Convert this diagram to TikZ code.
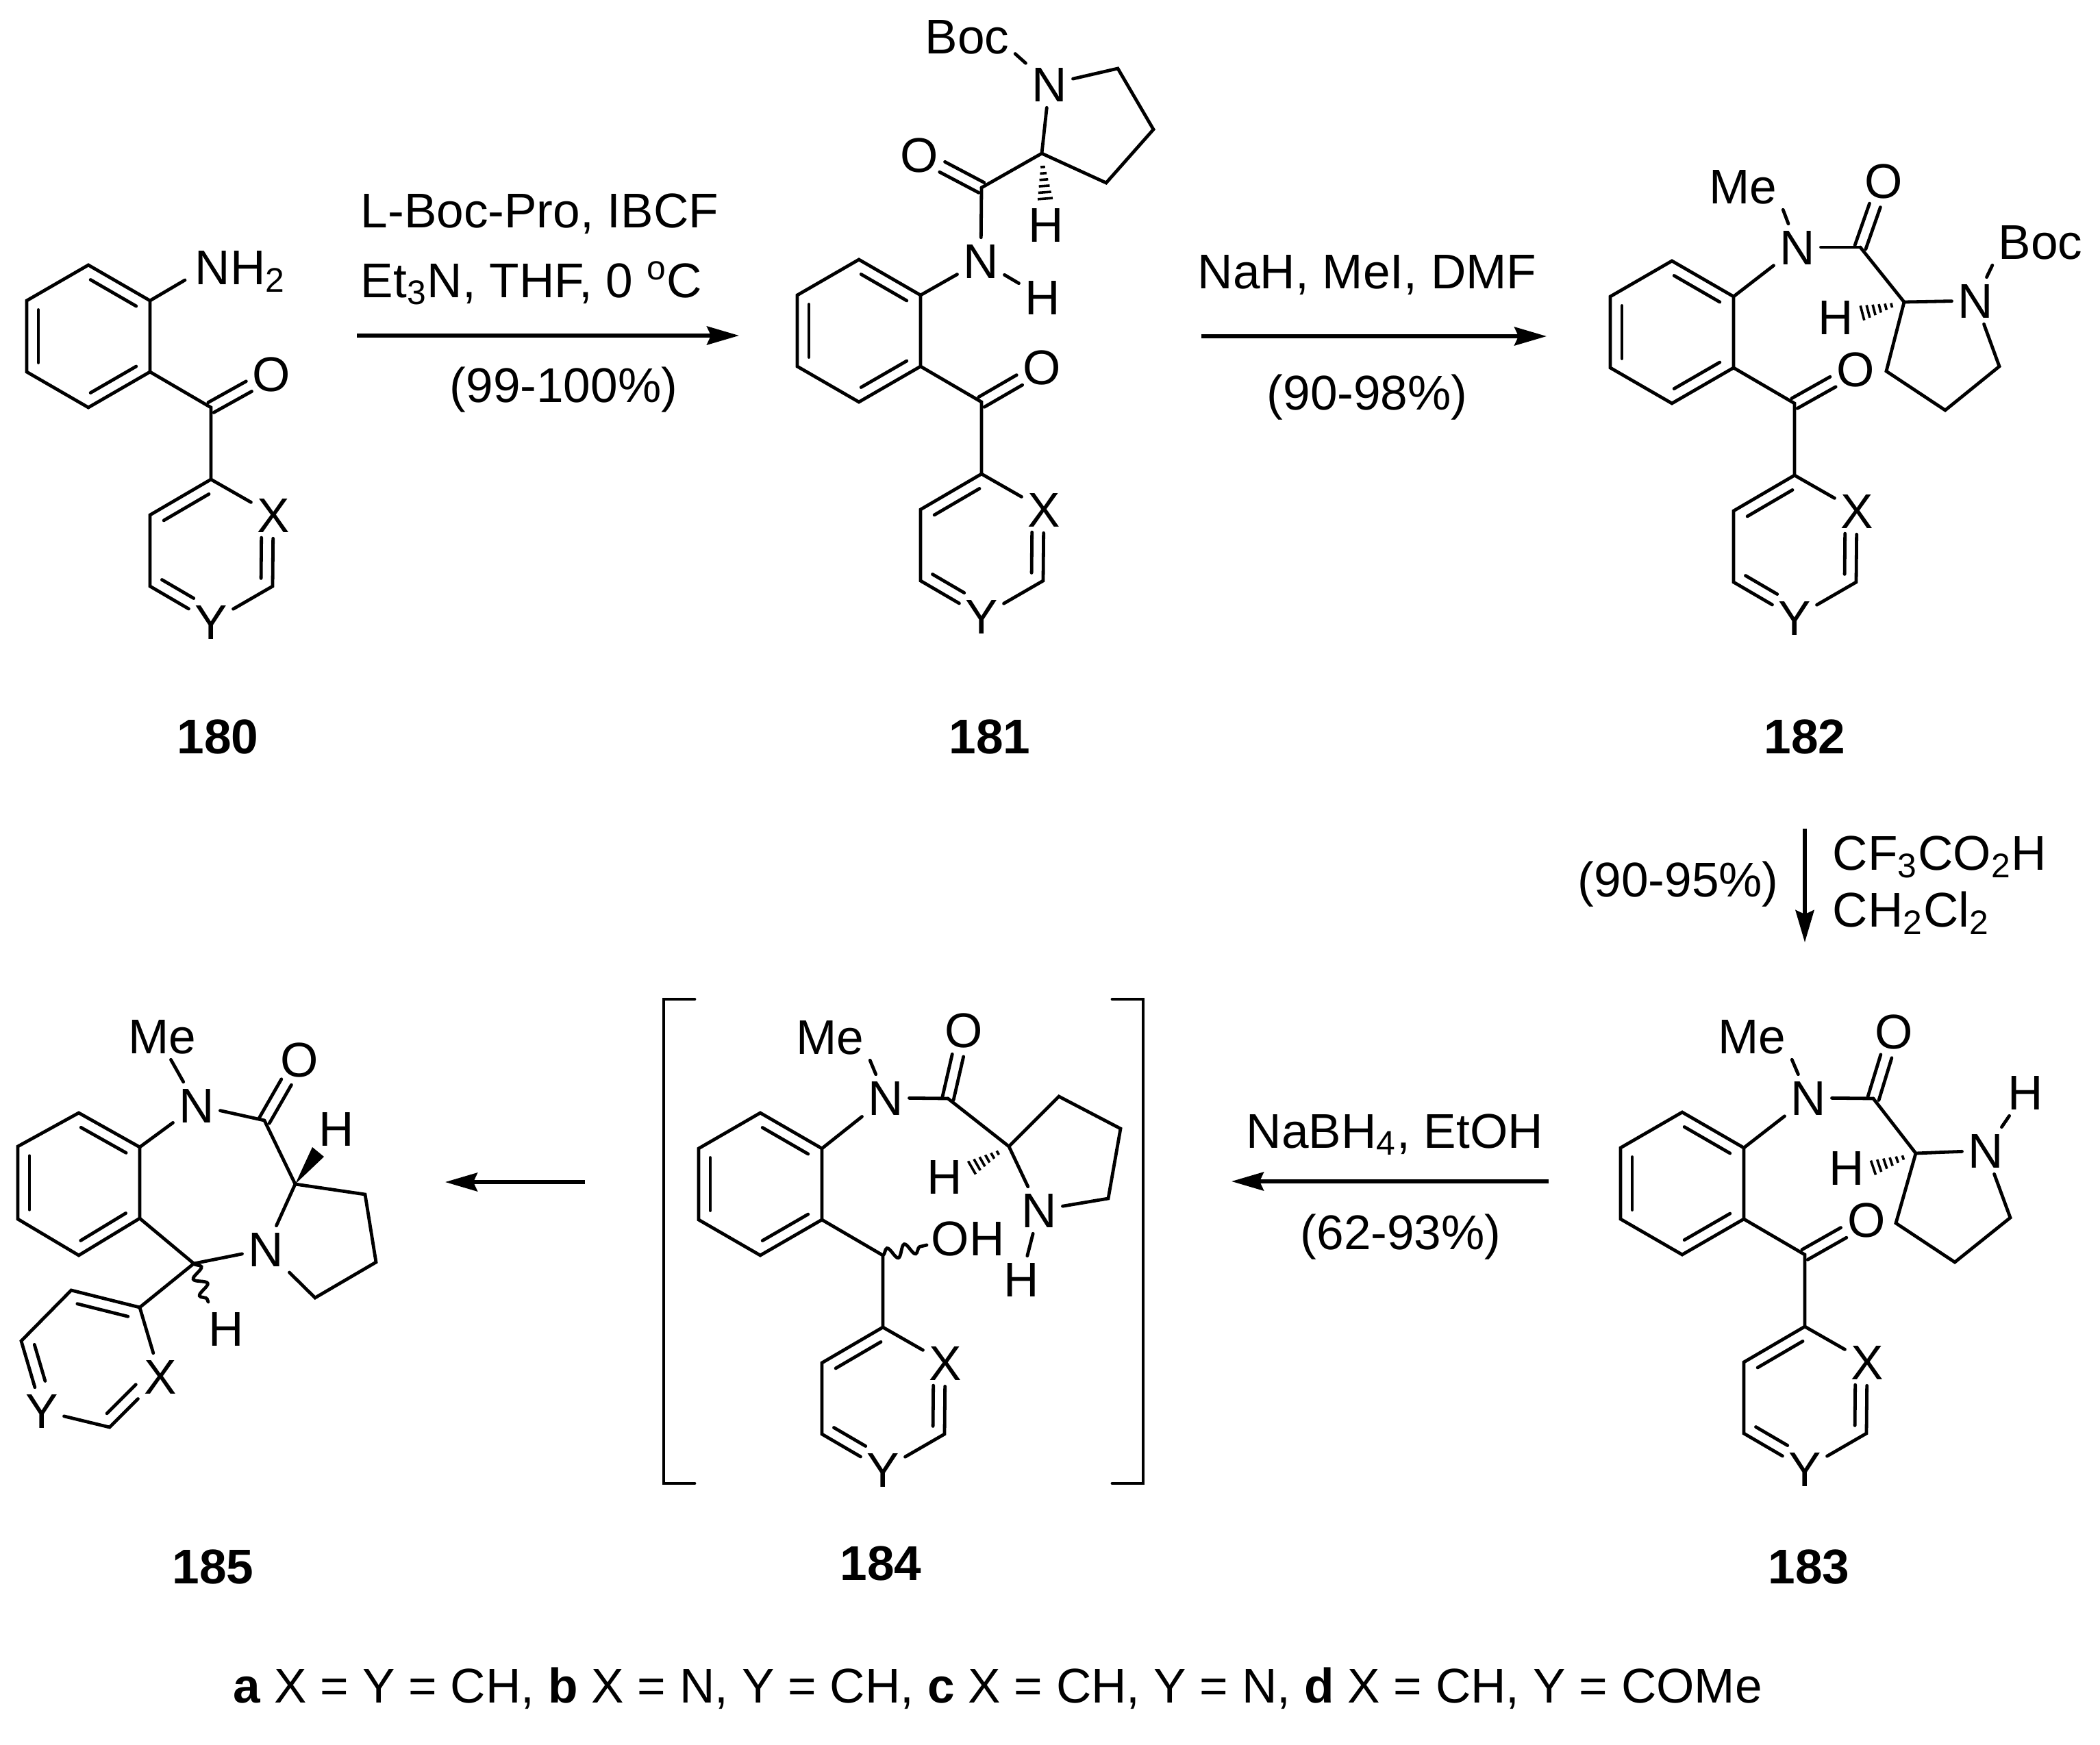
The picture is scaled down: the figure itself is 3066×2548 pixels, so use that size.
\documentclass[tikz,border=0pt]{standalone}
\usepackage{fontspec}
\setmainfont{Liberation Sans}
\usetikzlibrary{calc, arrows.meta, decorations.pathmorphing}

% second line of a ring double bond, on the right of a -> b
\newcommand{\inbond}[4]{
    \path[bond] ($(#1)!#3!(#2)!4.25pt!-90:(#2)$) -- ($(#2)!#4!(#1)!4.25pt!90:(#1)$);
}
% carbonyl
\newcommand{\dblbond}[2]{
    \path[bond] ($(#1)!2.1pt!90:(#2)$) -- ($(#1)!.63!(#2)!2.1pt!90:(#2)$);
    \path[bond] ($(#1)!2.1pt!-90:(#2)$) -- ($(#1)!.63!(#2)!2.1pt!-90:(#2)$);
}
% hashed stereo bond
\newcommand{\hashbond}[2]{
    \foreach \f in {.3,.44,.58,.72,.86,1} {
        \path[hash] ($(#1)!\f!(#2)!{\f*2.75pt}!90:(#1)$) -- ($(#1)!\f!(#2)!{\f*2.75pt}!-90:(#1)$);
    }
}
% benzene + C + X/Y ring, #2,#3 = middle of the benzene
\newcommand{\arylcore}[3]{
    \begin{scope}[shift={(#2,#3)}]
        \coordinate (#1a) at (0,-104);
        \coordinate (#1b) at (90,-52);
        \coordinate (#1c) at (90,52);
        \coordinate (#1d) at (0,104);
        \coordinate (#1e) at (-90,52);
        \coordinate (#1f) at (-90,-52);
        \coordinate (#1C) at (179,104);
        \coordinate (#1g) at (179,209);
        \node (#1X) [atom] at (270,261) {X};
        \coordinate (#1h) at (269,365);
        \node (#1Y) [atom] at (179,417) {Y};
        \coordinate (#1i) at (90,365);
        \coordinate (#1j) at (90,261);
    \end{scope}
    \path[bond] (#1a) -- (#1b) -- (#1c) -- (#1d) -- (#1e) -- (#1f) -- cycle;
    \path[bond] (#1c) -- (#1C) -- (#1g);
    \path[bond] (#1g) -- (#1X);
    \path[bond] (#1X) -- (#1h) -- (#1Y);
    \path[bond] (#1Y) -- (#1i) -- (#1j) -- (#1g);
    \inbond{#1a}{#1b}{.13}{.13}
    \inbond{#1c}{#1d}{.13}{.13}
    \inbond{#1e}{#1f}{.13}{.13}
    \inbond{#1j}{#1g}{.13}{.13}
    \inbond{#1X}{#1h}{.32}{.11}
    \inbond{#1Y}{#1i}{.38}{.1}
}

\begin{document}
\begin{tikzpicture}[
        x = 0.25pt, y = -0.25pt,
        every node/.style = {font = \fontsize{17.8}{21}\selectfont},
        atom/.style = {inner sep = 2pt, text height = 12.75pt, text depth = 0pt},
        txt/.style = {anchor = base west, inner sep = 0pt},
        lab/.style = {anchor = base, inner sep = 0pt, font = \fontsize{17.8}{21}\selectfont\bfseries},
        bond/.style = {draw, line width = 1.2pt, line cap = round},
        hash/.style = {draw, line width = 0.9pt},
        wavy/.style = {bond, decorate, decoration = {snake, segment length = 6.5pt, amplitude = 2.2pt}},
        arr/.style = {draw, line width = 1.3pt, -{Stealth[length = 11.75pt, width = 6.75pt, inset = 1.5pt]}},
    ]
    \useasboundingbox (0,0) rectangle (3066,2548);

    % 180
    \arylcore{A}{129}{491}
    \node (AN) [atom, anchor = west] at (276,390) {NH\textsubscript{2}};
    \coordinate (ANe) at (270,409);
    \node (AO) [atom] at (396,546) {O};
    \path[bond] (Ab) -- (ANe);
    \dblbond{AC}{AO}
    \node (Alab) [lab] at (318,1100) {180};

    % 181
    \arylcore{B}{1254}{483}
    \node (BN) [atom] at (1432,381) {N};
    \node (BH) [atom] at (1522,434) {H};
    \coordinate (BCO) at (1433,274);
    \node (BO) [atom] at (1342,226) {O};
    \coordinate (Bs) at (1521,224);
    \node (BN2) [atom] at (1532,123) {N};
    \node (BBoc) [atom] at (1412,53) {Boc};
    \coordinate (Br1) at (1632,100);
    \coordinate (Br2) at (1684,189);
    \coordinate (Br3) at (1615,267);
    \node (BH2) [atom] at (1527,328) {H};
    \coordinate (Bhe) at (1526,290);
    \node (BO2) [atom] at (1521,536) {O};
    \path[bond] (Bb) -- (BN);
    \path[bond] (BN) -- (BH);
    \path[bond] (BN) -- (BCO);
    \dblbond{BCO}{BO}
    \path[bond] (BCO) -- (Bs);
    \path[bond] (Bs) -- (BN2);
    \path[bond] (BN2) -- (BBoc.-20);
    \path[bond] (BN2) -- (Br1) -- (Br2) -- (Br3) -- (Bs);
    \hashbond{Bs}{Bhe}
    \dblbond{BC}{BO2}
    \node (Blab) [lab] at (1445,1100) {181};

    % 182
    \arylcore{C}{2441}{485}
    \node (CN) [atom] at (2624,361) {N};
    \node (CMe) [atom] at (2545,272) {Me};
    \coordinate (CCO) at (2716,361);
    \node (CO) [atom] at (2750,264) {O};
    \coordinate (Cs) at (2780,441);
    \node (CN2) [atom] at (2884,439) {N};
    \node (CBoc) [atom] at (2979,353) {Boc};
    \coordinate (Cr1) at (2919,535);
    \coordinate (Cr2) at (2840,599);
    \coordinate (Cr3) at (2754,542);
    \node (CH) [atom] at (2680,463) {H};
    \coordinate (Che) at (2719,457);
    \node (CO2) [atom] at (2709,539) {O};
    \path[bond] (Cb) -- (CN);
    \path[bond] (CN) -- (CMe.south east);
    \path[bond] (CN) -- (CCO);
    \dblbond{CCO}{CO}
    \path[bond] (CCO) -- (Cs);
    \path[bond] (Cs) -- (CN2);
    \path[bond] (CN2) -- (CBoc.south west);
    \path[bond] (CN2) -- (Cr1) -- (Cr2) -- (Cr3) -- (Cs);
    \hashbond{Cs}{Che}
    \dblbond{CC}{CO2}
    \node (Clab) [lab] at (2635,1100) {182};

    % 183
    \arylcore{D}{2456}{1728}
    \node (DN) [atom] at (2640,1603) {N};
    \node (DMe) [atom] at (2558,1513) {Me};
    \coordinate (DCO) at (2735,1604);
    \node (DO) [atom] at (2765,1506) {O};
    \coordinate (Ds) at (2797,1684);
    \node (DN2) [atom] at (2899,1680) {N};
    \node (DH2) [atom] at (2957,1595) {H};
    \coordinate (Dr1) at (2935,1778);
    \coordinate (Dr2) at (2854,1843);
    \coordinate (Dr3) at (2768,1786);
    \node (DH) [atom] at (2696,1705) {H};
    \coordinate (Dhe) at (2735,1705);
    \node (DO2) [atom] at (2725,1781) {O};
    \path[bond] (Db) -- (DN);
    \path[bond] (DN) -- (DMe.south east);
    \path[bond] (DN) -- (DCO);
    \dblbond{DCO}{DO}
    \path[bond] (DCO) -- (Ds);
    \path[bond] (Ds) -- (DN2);
    \path[bond] (DN2) -- (DH2);
    \path[bond] (DN2) -- (Dr1) -- (Dr2) -- (Dr3) -- (Ds);
    \hashbond{Ds}{Dhe}
    \dblbond{DC}{DO2}
    \node (Dlab) [lab] at (2641,2312) {183};

    % 184
    \arylcore{E}{1110}{1729}
    \node (EN) [atom] at (1293,1603) {N};
    \node (EMe) [atom] at (1212,1514) {Me};
    \coordinate (ECO) at (1384,1604);
    \node (EO) [atom] at (1407,1504) {O};
    \coordinate (Es) at (1473,1674);
    \coordinate (Er1) at (1546,1601);
    \coordinate (Er2) at (1636,1648);
    \coordinate (Er3) at (1618,1750);
    \node (EN2) [atom] at (1517,1767) {N};
    \node (EH2) [atom] at (1491,1868) {H};
    \node (EH) [atom] at (1379,1718) {H};
    \coordinate (Ehe) at (1419,1705);
    \node (EOH) [atom] at (1413,1808) {OH};
    \coordinate (Ewe) at (1353,1818);
    \path[bond] (Eb) -- (EN);
    \path[bond] (EN) -- (EMe.south east);
    \path[bond] (EN) -- (ECO);
    \dblbond{ECO}{EO}
    \path[bond] (ECO) -- (Es);
    \path[bond] (Es) -- (Er1) -- (Er2) -- (Er3) -- (EN2);
    \path[bond] (EN2) -- (Es);
    \path[bond] (EN2) -- (EH2);
    \hashbond{Es}{Ehe}
    \path[wavy] (EC) -- (Ewe);
    \path[bond] (1014,1459) -- (969,1459) -- (969,2166) -- (1014,2166);
    \path[bond] (1624,1459) -- (1669,1459) -- (1669,2166) -- (1624,2166);
    \node (Elab) [lab] at (1286,2307) {184};

    % 185
    \coordinate (Fa) at (115,1625);
    \coordinate (Fb) at (204,1675);
    \coordinate (Fc) at (204,1779);
    \coordinate (Fd) at (115,1833);
    \coordinate (Fe) at (26,1780);
    \coordinate (Ff) at (26,1674);
    \node (FN) [atom] at (287,1614) {N};
    \node (FMe) [atom] at (237,1513) {Me};
    \coordinate (FCO) at (386,1636);
    \node (FO) [atom] at (437,1547) {O};
    \coordinate (Fs) at (431,1729);
    \node (FH) [atom] at (491,1648) {H};
    \coordinate (Fw1) at (456,1675);
    \coordinate (Fw2) at (473,1689);
    \coordinate (Fr1) at (533,1744);
    \coordinate (Fr2) at (549,1843);
    \coordinate (Fr3) at (460,1895);
    \node (FN2) [atom] at (388,1824) {N};
    \coordinate (FCH) at (283,1845);
    \node (FH2) [atom] at (330,1940) {H};
    \coordinate (Fwe) at (304,1901);
    \coordinate (Fg) at (204,1909);
    \coordinate (Fj) at (104,1884);
    \coordinate (Fi) at (31,1958);
    \node (FY) [atom] at (61,2060) {Y};
    \coordinate (Fh) at (160,2084);
    \node (FX) [atom] at (234,2010) {X};
    \path[bond] (Fa) -- (Fb) -- (Fc) -- (Fd) -- (Fe) -- (Ff) -- cycle;
    \inbond{Fa}{Fb}{.13}{.13}
    \inbond{Fc}{Fd}{.13}{.13}
    \inbond{Fe}{Ff}{.13}{.13}
    \path[bond] (Fb) -- (FN);
    \path[bond] (FN) -- (FMe.-70);
    \path[bond] (FN) -- (FCO);
    \dblbond{FCO}{FO}
    \path[bond] (FCO) -- (Fs);
    \fill (Fs) -- (Fw1) -- (Fw2) -- cycle;
    \path[bond] (Fs) -- (FN2);
    \path[bond] (Fs) -- (Fr1) -- (Fr2) -- (Fr3) -- (FN2);
    \path[bond] (FN2) -- (FCH);
    \path[bond] (Fc) -- (FCH) -- (Fg);
    \path[wavy] (FCH) -- (Fwe);
    \path[bond] (Fg) -- (FX);
    \path[bond] (FX) -- (Fh) -- (FY);
    \path[bond] (FY) -- (Fi) -- (Fj) -- (Fg);
    \inbond{Fj}{Fg}{.13}{.13}
    \inbond{FX}{Fh}{.32}{.11}
    \inbond{FY}{Fi}{.38}{.1}
    \node (Flab) [lab] at (311,2312) {185};

    % arrows
    \coordinate (R1a) at (521,490);
    \coordinate (R1b) at (1079,490);
    \coordinate (R2a) at (1754,491);
    \coordinate (R2b) at (2258,491);
    \coordinate (R3a) at (2635,1210);
    \coordinate (R3b) at (2635,1376);
    \coordinate (R4a) at (2261,1725);
    \coordinate (R4b) at (1798,1725);
    \coordinate (R5a) at (854,1726);
    \coordinate (R5b) at (650,1726);
    \path[arr] (R1a) -- (R1b);
    \path[arr] (R2a) -- (R2b);
    \path[arr] (R3a) -- (R3b);
    \path[arr] (R4a) -- (R4b);
    \path[arr] (R5a) -- (R5b);

    % conditions
    \node (T1) [txt] at (526,332) {L-Boc-Pro, IBCF};
    \node (T2) [txt] at (526,434) {Et\textsubscript{3}N, THF, 0 \textsuperscript{o}C};
    \node (T3) [txt] at (656,587) {(99-100\%)};
    \node (T4) [txt] at (1748,421) {NaH, MeI, DMF};
    \node (T5) [txt] at (1849,598) {(90-98\%)};
    \node (T6) [txt] at (2303,1309) {(90-95\%)};
    \node (T7) [txt] at (2675,1270) {CF\textsubscript{3}CO\textsubscript{2}H};
    \node (T8) [txt] at (2675,1353) {CH\textsubscript{2}Cl\textsubscript{2}};
    \node (T9) [txt] at (1819,1676) {NaBH\textsubscript{4}, EtOH};
    \node (T10) [txt] at (1898,1824) {(62-93\%)};
    \node (T11) [txt] at (340,2486) {\textbf{a} X = Y = CH, \textbf{b} X = N, Y = CH, \textbf{c} X = CH, Y = N, \textbf{d} X = CH, Y = COMe};
\end{tikzpicture}
\end{document}
